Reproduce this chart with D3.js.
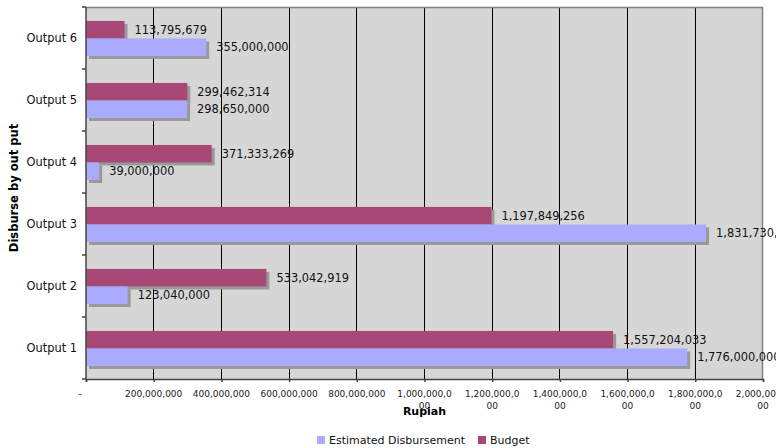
<!DOCTYPE html>
<html>
<head>
<meta charset="utf-8">
<script src="https://cdn.jsdelivr.net/npm/d3@7"></script>
<style>
  body { margin: 0; background: #fff; }
  svg { display: block; font-family: "DejaVu Sans", Verdana, sans-serif; }
</style>
</head>
<body>
<div id="chart-area"></div>
<script>
// data
var categories = ["Output 1", "Output 2", "Output 3", "Output 4", "Output 5", "Output 6"];
var estimated = [1776000000, 123040000, 1831730000, 39000000, 298650000, 355000000];
var budget = [1557204033, 533042919, 1197849256, 371333269, 299462314, 113795679];
var xTicks = [0, 200000000, 400000000, 600000000, 800000000, 1000000000,
  1200000000, 1400000000, 1600000000, 1800000000, 2000000000];
var seriesNames = ["Estimated Disbursement", "Budget"];

var width = 776;
var height = 448;
var margin = { top: 7, right: 13, bottom: 69, left: 86 };
var plotW = width - margin.left - margin.right;
var plotH = height - margin.top - margin.bottom;

var data = categories.map(function (c, i) {
  return { cat: c, Budget: budget[i], Estimated: estimated[i] };
});

var colors = { Estimated: "#aaaaff", Budget: "#a84876" };
var fmt = d3.format(",");

var svg = d3.select("#chart-area")
  .append("svg")
  .attr("width", width)
  .attr("height", height);

var g = svg.append("g")
  .attr("transform", "translate(" + margin.left + "," + margin.top + ")");

var x = d3.scaleLinear()
  .domain([0, 2000000000])
  .range([0, plotW]);

var y = d3.scaleBand()
  .domain(categories.slice().reverse())
  .range([0, plotH]);

var inner = d3.scaleBand()
  .domain(["Budget", "Estimated"])
  .range([y.bandwidth() * 0.225, y.bandwidth() * 0.79]);

// plot background
g.append("rect")
  .attr("width", plotW)
  .attr("height", plotH)
  .attr("fill", "#d6d6d6");

// grid lines
g.selectAll(".grid")
  .data(xTicks.slice(1, -1)).enter()
  .append("line")
  .attr("x1", d => x(d)).attr("x2", d => x(d))
  .attr("y1", 0).attr("y2", plotH)
  .attr("stroke", "#000")
  .attr("stroke-width", 1)
  .attr("shape-rendering", "crispEdges");

// border on top and right
g.append("path")
  .attr("d", "M0,0.5H" + (plotW - 0.5) + "V" + plotH)
  .attr("fill", "none")
  .attr("stroke", "#808080")
  .attr("stroke-width", 1.5);

var bars = [];
data.forEach(function (d) {
  ["Budget", "Estimated"].forEach(function (k) {
    bars.push({ cat: d.cat, key: k, value: d[k] });
  });
});

// shadows
g.selectAll(".shadow")
  .data(bars).enter()
  .append("rect")
  .attr("x", 3)
  .attr("y", d => y(d.cat) + inner(d.key) + 3)
  .attr("width", d => x(d.value))
  .attr("height", inner.bandwidth())
  .attr("fill", "#999");

g.selectAll(".bar")
  .data(bars).enter()
  .append("rect")
  .attr("x", 0)
  .attr("y", d => y(d.cat) + inner(d.key))
  .attr("width", d => x(d.value))
  .attr("height", inner.bandwidth())
  .attr("fill", d => colors[d.key]);

g.selectAll(".val")
  .data(bars).enter()
  .append("text")
  .attr("x", d => x(d.value) + 10)
  .attr("y", d => y(d.cat) + inner(d.key) + inner.bandwidth() / 2)
  .attr("dy", "0.36em")
  .attr("font-size", "11.4px")
  .attr("fill", "#111")
  .text(d => fmt(d.value));

// left axis
var leftAxis = d3.axisLeft(y).tickSize(0).tickPadding(9);
var ly = g.append("g").attr("class", "y axis").call(leftAxis);
ly.select(".domain").remove();
ly.selectAll("text").attr("font-size", "11.4px").attr("fill", "#111")
  .attr("font-family", "DejaVu Sans, Verdana, sans-serif");

g.append("line")
  .attr("x1", 0).attr("x2", 0).attr("y1", 0).attr("y2", plotH)
  .attr("stroke", "#444").attr("stroke-width", 1.5);
g.selectAll(".ytick")
  .data(d3.range(categories.length + 1)).enter()
  .append("line")
  .attr("x1", -4).attr("x2", 0)
  .attr("y1", d => d * y.step()).attr("y2", d => d * y.step())
  .attr("stroke", "#444").attr("stroke-width", 1.5);

// bottom axis
var bottomAxis = d3.axisBottom(x).tickValues(xTicks).tickSize(3).tickFormat("");
var bx = g.append("g")
  .attr("class", "x axis")
  .attr("transform", "translate(0," + plotH + ")")
  .call(bottomAxis);
bx.select(".domain").attr("stroke", "#444").attr("stroke-width", 1.5);
bx.selectAll(".tick line").attr("stroke", "#444").attr("stroke-width", 1.5);

var labels = g.selectAll(".xlab")
  .data(xTicks).enter()
  .append("text")
  .attr("x", d => d === 0 ? x(d) - 6 : x(d))
  .attr("y", plotH + 18)
  .attr("text-anchor", "middle")
  .attr("font-size", "9px")
  .attr("fill", "#222");
labels.each(function (d) {
  var s = d === 0 ? "-" : fmt(d);
  var lines = s.length > 11 ? [s.slice(0, 11), s.slice(11)] : [s];
  var t = d3.select(this);
  lines.forEach(function (l, i) {
    t.append("tspan")
      .attr("x", d === 0 ? x(d) - 6 : x(d))
      .attr("dy", i === 0 ? 0 : 12)
      .text(l);
  });
});

// axis titles
svg.append("text")
  .attr("x", margin.left + plotW / 2)
  .attr("y", 415)
  .attr("text-anchor", "middle")
  .attr("font-size", "11px")
  .attr("font-weight", "bold")
  .text("Rupiah");

svg.append("text")
  .attr("transform", "translate(18," + 188 + ") rotate(-90)")
  .attr("text-anchor", "middle")
  .attr("font-size", "11.5px")
  .attr("font-weight", "bold")
  .text("Disburse by out put");

// legend
var legend = svg.append("g").attr("transform", "translate(317,436)");
var lx = [0, 161];
seriesNames.forEach(function (name, i) {
  var key = i === 0 ? "Estimated" : "Budget";
  legend.append("rect")
    .attr("x", lx[i]).attr("y", 0)
    .attr("width", 8).attr("height", 8)
    .attr("fill", colors[key]);
  legend.append("text")
    .attr("x", lx[i] + 12).attr("y", 8)
    .attr("font-size", "11px")
    .attr("fill", "#111")
    .text(name);
});
</script>
</body>
</html>
